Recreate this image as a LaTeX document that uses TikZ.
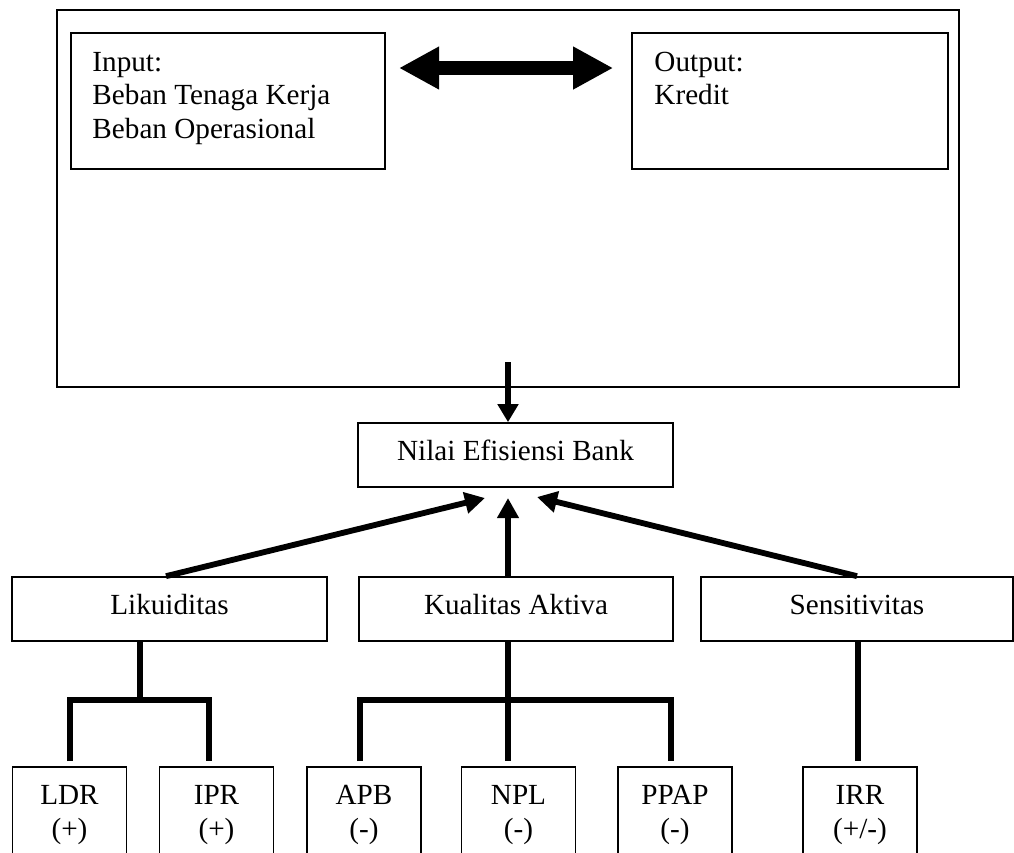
\documentclass[tikz,border=0pt]{standalone}
\usepackage{fontspec}
\setmainfont{Liberation Serif}
\usepackage{tikz}
\usetikzlibrary{arrows.meta,calc}
\def\pxu{0.01445cm}

\begin{document}
\begin{tikzpicture}[x=0.01445cm, y=-0.01445cm,
    font=\fontsize{12pt}{13.8pt}\selectfont,
    box/.style 2 args={draw, line width=0.7pt, inner sep=0pt, align=center,
      minimum width=#1*\pxu, minimum height=#2*\pxu},
    single/.style={text height=0.29cm, text depth=0.145cm},
    leaf/.style={box={114}{96}},
    txt/.style={anchor=north west, inner sep=0pt, align=left},
    tree/.style={line width=2.4pt},
    arr/.style={line width=2.4pt, -{Triangle[length=0.29cm, width=0.3cm]}},
    dbl/.style={line width=0.2cm,
      {Triangle[length=0.578cm, width=0.578cm]}-{Triangle[length=0.578cm, width=0.578cm]}}]
  \useasboundingbox (0,0) rectangle (1014,852);
  \clip (0,0) rectangle (1014,852);

  % upper frame with input / output
  \node[box={902}{377}, line width=0.9pt] (frame) at (508,198.5) {};
  \node[box={314}{136}] (inp) at (228,101) {};
  \node[txt] (inptxt) at (92,51.7) {Input:\\Beban Tenaga Kerja\\Beban Operasional};
  \node[box={316}{136}] (outp) at (790,101) {};
  \node[txt] (outtxt) at (654,51.5) {Output:\\Kredit};

  \coordinate (mid) at (508,68);
  \draw[dbl, shorten <=0.19cm, shorten >=0.26cm] (inp.east |- mid) -- (outp.west |- mid);

  % efficiency
  \node[box={315}{64}, single] (nilai) at (515.5,455) {Nilai Efisiensi Bank};
  \coordinate (src) at (508,362);
  \draw[arr, -{Triangle[length=0.26cm, width=0.29cm]}] (src) -- (src |- nilai.north);

  % factors
  \node[box={315}{64}, single] (lik) at (169.5,609) {Likuiditas};
  \node[box={314}{64}, single] (kua) at (516,609) {Kualitas Aktiva};
  \node[box={312}{64}, single] (sen) at (857,609) {Sensitivitas};

  \coordinate (tl) at (485,498);
  \coordinate (tc) at (508,498);
  \coordinate (tr) at (537,497);
  \draw[arr] ($(lik.north)+(-3.5,0)$) -- (tl);
  \draw[arr] (tc |- kua.north) -- (tc);
  \draw[arr] (sen.north) -- (tr);

  % ratios
  \node[leaf] (ldr) at (69.5,815) {LDR\\(+)};
  \node[leaf] (ipr) at (216.5,815) {IPR\\(+)};
  \node[leaf] (apb) at (364,815) {APB\\(-)};
  \node[leaf] (npl) at (518.5,815) {NPL\\(-)};
  \node[leaf] (ppap) at (675,815) {PPAP\\(-)};
  \node[leaf] (irr) at (860,815) {IRR\\(+/-)};

  \coordinate (jl) at (140,700);
  \draw[tree] (jl |- lik.south) -- (jl);
  \draw[tree] ($(ldr.north)+(0.5,-5)$) |- (jl) -| ($(ipr.north)+(-7.5,-5)$);

  \coordinate (jk) at (508,700);
  \draw[tree] (jk |- kua.south) -- ($(npl.north)+(-10.5,-5)$);
  \draw[tree] ($(apb.north)+(-4,-5)$) |- (jk) -| ($(ppap.north)+(-4,-5)$);

  \draw[tree] ($(sen.south)+(1,0)$) -- ($(irr.north)+(-2,-5)$);
\end{tikzpicture}
\end{document}
